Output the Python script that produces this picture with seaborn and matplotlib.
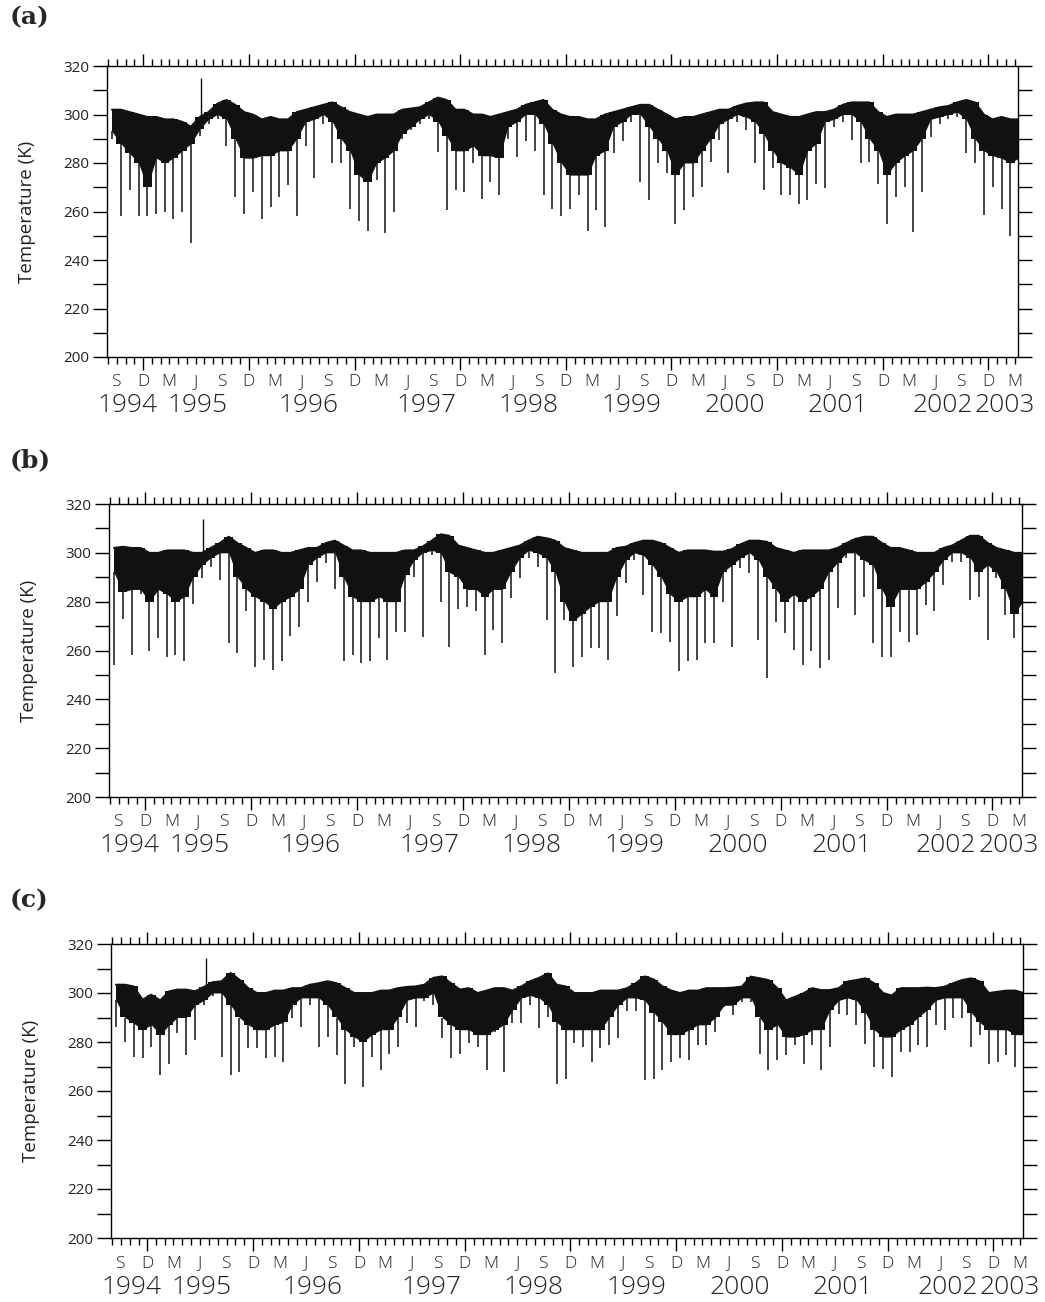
import numpy as np
import pandas as pd
import matplotlib
matplotlib.use("Agg")
import matplotlib.pyplot as plt
import matplotlib.dates as mdates
import matplotlib.transforms as mtrans
import seaborn as sns

# ---------------- data (monthly values, Aug 1994 .. Mar 2003) -------------
month_dates = pd.date_range("1994-08-01", "2003-03-01", freq="MS") + pd.Timedelta(days=14)

# panel (a)
a_top = [302, 302, 301, 300, 299,
         299, 298, 298, 297, 295, 299, 301, 304.5, 306, 304, 301, 300,
         298, 299, 298, 298, 301, 302, 303, 304, 305, 303, 301, 300,
         299, 300, 300, 300, 302, 302.5, 303, 305, 307, 306, 302, 302,
         300, 300, 299, 300, 301, 302, 304, 305, 306, 302, 300, 299,
         299, 298, 298, 300, 301, 302, 303, 304, 304, 302, 300, 298,
         299, 299, 300, 301, 302, 302, 303.5, 304.5, 305, 305, 301, 300,
         299, 299, 300, 301, 301, 302, 304, 305, 305, 305, 301, 299,
         300, 300, 300, 301, 302, 303, 303.5, 305, 306, 305, 300, 298,
         299, 298, 298]
a_band = [293, 288, 284, 280, 270,
          282, 280, 282, 285, 288, 294, 298, 300, 298, 290, 282, 282,
          283, 283, 285, 285, 290, 297, 298, 300, 297, 290, 285, 275,
          272, 280, 282, 285, 292, 295, 298, 300, 297, 291, 285, 285,
          287, 283, 283, 282, 295, 297, 300, 300, 296, 288, 280, 275,
          275, 275, 283, 285, 295, 297, 300, 300, 295, 290, 285, 275,
          280, 280, 285, 290, 296, 298, 300, 299, 297, 292, 285, 280,
          278, 275, 285, 288, 297, 298, 300, 300, 297, 290, 285, 275,
          280, 283, 285, 290, 298, 299, 300, 301, 298, 290, 285, 283,
          282, 280, 282]
a_min = [290, 258, 269, 258, 258,
         259, 260, 257, 260, 247, 291, 296, 298, 287, 266, 259, 268,
         257, 262, 266, 271, 258, 287, 274, 296, 280, 280, 261, 256,
         252, 273, 251, 260, 290, 293.5, 296, 298, 284.6, 260.5, 269, 268,
         280, 265, 272, 267, 290, 282.5, 289, 285, 267, 261, 258, 261,
         267, 252, 260.5, 253.6, 284, 289, 297, 272, 264.6, 280, 276, 255,
         260.5, 266, 270, 280.5, 289.4, 276, 297, 293.5, 280, 269, 278, 267,
         267, 263, 264.6, 271.5, 269.5, 295, 297, 289.4, 280, 280.5, 271.5, 255,
         266, 270, 251.6, 268, 290.8, 296, 298, 299, 284, 280, 258.5, 270,
         261, 250, 270]

# panel (b)
b_top = [302, 302.5, 302, 302, 300,
         300, 301, 301, 301, 300, 300, 302, 304, 306.6, 304, 302, 300,
         301, 301, 300, 300, 301, 302, 302, 304, 305, 303, 301, 301,
         300, 300, 300, 300, 301, 301, 302.6, 305, 307.6, 307, 303, 302,
         301, 300, 300, 301, 302, 303, 305, 306.6, 306, 305, 302, 301,
         300, 300, 300, 300, 302, 302.5, 304, 305, 305, 304, 302, 300,
         301, 301, 301, 300.5, 300.5, 301.5, 303.5, 305, 305, 304.5, 302, 301,
         300, 301, 301, 301, 301, 302, 304, 305.7, 306.6, 306.6, 304, 302,
         302, 301, 300, 300, 300, 302, 303, 305, 307, 307, 304, 302,
         301, 300, 300]
b_band = [292, 284, 285, 285, 280,
          285, 283, 280, 282, 290, 295, 298, 300, 300, 290, 285, 282,
          280, 277, 280, 282, 285, 295, 298, 300, 300, 290, 282, 280,
          280, 282, 280, 280, 291, 297, 300, 301, 300, 292, 290, 285,
          285, 282, 285, 285, 292, 298, 301, 300, 298, 292, 280, 272,
          275, 278, 280, 280, 290, 297, 300, 299, 295, 290, 283, 280,
          282, 282, 285, 282, 292, 295, 298, 300, 297, 290, 285, 280,
          283, 280, 282, 285, 292, 296, 300, 300, 297, 295, 285, 278,
          285, 285, 285, 288, 292, 297, 300, 300, 298, 292, 295, 292,
          285, 275, 280]
b_min = [254, 273, 258, 283, 260,
         265, 257.5, 258, 255.5, 279, 289.6, 294, 289, 263, 259, 276, 253.4,
         256, 252, 255.5, 266, 269.8, 280, 288, 296, 285, 255.5, 258, 255,
         255.5, 265, 256, 267.7, 267.7, 290, 265.7, 299, 280, 261.6, 277, 278,
         276, 258, 268.5, 263, 281.4, 289.6, 298, 294, 272.5, 250.7, 272.5, 253.4,
         257.5, 261, 261, 256, 274, 287.5, 297, 282.8, 267.7, 267, 263.6, 251.4,
         255.5, 256, 263, 263, 280, 261.6, 293.7, 291.6, 264.3, 248.6, 271.8, 267,
         260.2, 254, 259.6, 252.7, 256, 277.3, 298, 274.6, 282, 263, 257.5, 257.5,
         267.7, 263.6, 266.4, 278.7, 276, 286.8, 296.4, 296.4, 280.7, 282, 264.3, 289.6,
         274.6, 265, 267.7]

# panel (c)
c_top = [303.4, 303.4, 302.7, 297.3, 299.3,
         297, 300.7, 301.4, 301.4, 300.7, 302.5, 304.4, 304.8, 308.2, 305.5, 302, 300,
         300, 301, 301, 302, 302, 303.4, 304, 304.8, 304, 302, 300, 300,
         300, 301, 301, 302, 302.5, 302.7, 303.4, 306.2, 306.8, 304, 301.4, 302,
         300, 301, 302, 302, 301, 302.7, 304.8, 306.2, 308, 303.4, 302.7, 300,
         300, 300, 301, 301, 301, 302, 304, 306.8, 305.5, 302.7, 301, 300,
         301, 301, 302, 302, 302, 302.2, 302.6, 306.7, 306, 305.3, 302, 297,
         298.5, 300, 302, 301.2, 301.2, 302, 304.7, 305.3, 306, 304, 300, 299,
         302, 302, 302, 302.2, 302, 302.6, 304, 305.3, 306, 304.7, 300, 300.5,
         301, 301, 300]
c_band = [297, 290, 287.7, 285, 287,
          283, 287, 290, 290, 295, 297, 300, 300, 295, 290, 287, 285,
          285, 287, 288, 295, 298, 298, 298, 295, 290, 285, 282, 280,
          283, 285, 285, 290, 297, 298, 298, 300, 290, 287, 285, 285,
          283, 283, 285, 287, 293, 298, 299, 298, 295, 288, 285, 285,
          285, 285, 285, 290, 295, 298, 298, 297, 292, 288, 283, 283,
          285, 287, 287, 290, 295, 295, 298, 298, 290, 285, 287, 282,
          282, 283, 285, 285, 293, 297, 298, 297, 292, 285, 282, 282,
          285, 287, 290, 293, 297, 298, 298, 298, 292, 288, 285, 285,
          285, 283, 283]
c_min = [286, 280, 274, 273.3, 278,
         266.4, 271, 283.6, 274.7, 280.8, 295, 298.6, 274, 266.4, 267.8, 277.4, 277.4,
         273.3, 274, 272, 290, 286.3, 295, 278, 282, 274.7, 263, 278, 261.6,
         274, 268.5, 275.3, 278, 287.7, 286.3, 296.6, 295.2, 281.5, 273.3, 275.3, 279.5,
         278, 268.5, 284.2, 267.8, 287.7, 287.7, 295.2, 285.6, 290.4, 263, 265, 279.5,
         278, 272, 277.4, 278.8, 281.5, 292.5, 292.5, 264.4, 265, 268.5, 272, 273.3,
         272.6, 278.8, 278.6, 284, 294.4, 291, 296.4, 296.4, 275.2, 268.4, 272.5, 274.5,
         278.6, 271, 278.6, 268.4, 278, 291.6, 291, 286.8, 279.3, 269.7, 269, 265.6,
         275.9, 275.9, 278.6, 278, 286.8, 284.8, 289.6, 289.6, 278, 282.7, 271, 271.8,
         274.5, 269.7, 269.7]

# single upward spikes (date, value)
up_dates = ["1995-06-18", "1995-06-18", "1995-06-21"]
up_values = [315, 314, 314.4]

panel_names = ["(a)", "(b)", "(c)"]
year_labels = ["1994", "1995", "1996", "1997", "1998", "1999", "2000", "2001", "2002", "2003"]
month_letter = {9: "S", 12: "D", 3: "M", 6: "J"}
y_ticks = [200, 220, 240, 260, 280, 300, 320]
y_label = "Temperature (K)"

# ---------------- styling / layout ----------------
sns.set_theme(style="white")
plt.rcParams["font.family"] = ["Open Sans", "DejaVu Sans"]

W, H = 1045, 1302
fig = plt.figure(figsize=(W / 100, H / 100), dpi=100)

# axes boxes in pixels: left, top, right, bottom
boxes = [(107, 66, 1018, 357), (109, 504, 1022, 797), (111, 944, 1023, 1238)]
label_pos = [(10, 17), (10, 460), (10, 900)]
# year label centres as axes fraction
year_frac = [0.022, 0.099, 0.221, 0.351, 0.463, 0.576, 0.689, 0.802, 0.917, 0.986]

x0 = pd.Timestamp("1994-07-29")
x1 = pd.Timestamp("2003-03-13")

series = [(a_top, a_band, a_min), (b_top, b_band, b_min), (c_top, c_band, c_min)]
ink = "#111111"

for i, ((top, band, mins), (l, t, r, b)) in enumerate(zip(series, boxes)):
    ax = fig.add_axes([l / W, 1 - b / H, (r - l) / W, (b - t) / H])
    df = pd.DataFrame({"date": month_dates, "top": top, "band": band, "min": mins})
    # monthly range drawn twice (straight and stepped) to give a ragged band
    ax.fill_between(df["date"], df["band"], df["top"], color=ink, lw=0)
    ax.fill_between(df["date"], df["band"], df["top"], color=ink, lw=0, step="mid")
    sns.lineplot(data=df, x="date", y="top", ax=ax, color=ink, lw=1.4)
    ax.vlines(df["date"], df["min"], df["band"], color=ink, lw=1.1)
    ax.vlines(pd.Timestamp(up_dates[i]), top[10], up_values[i], color=ink, lw=1.0)

    ax.set_xlim(x0, x1)
    ax.set_ylim(200, 320)
    ax.set_yticks(y_ticks)
    ax.set_yticks(np.arange(210, 320, 20), minor=True)
    ax.set_yticklabels([str(v) for v in y_ticks], fontsize=11, color="#222222")
    ax.xaxis.set_major_locator(mdates.MonthLocator(bymonth=12))
    ax.xaxis.set_minor_locator(mdates.MonthLocator())
    ax.tick_params(axis="x", which="major", direction="out", length=9, width=1,
                   top=True, bottom=True, labelbottom=False, color="black")
    ax.tick_params(axis="x", which="minor", direction="out", length=5, width=1,
                   top=True, bottom=True, color="black")
    ax.tick_params(axis="y", which="both", direction="out", length=10, width=1,
                   left=True, right=True, labelleft=True, labelright=False, color="black", pad=3)
    ax.set_xlabel("")
    ax.set_ylabel(y_label, fontsize=13.5, color="#222222")
    ax.yaxis.set_label_coords(-0.078, 0.5)
    for sp in ax.spines.values():
        sp.set_color("black")
        sp.set_linewidth(1.0)
    ax.grid(False)

    # month letters
    trans = mtrans.blended_transform_factory(ax.transData, ax.transAxes)
    for d in pd.date_range("1994-09-01", "2003-03-01", freq="3MS"):
        ax.text(d, -0.087, month_letter[d.month], transform=trans, ha="center", va="center",
                fontsize=12.5, color="#222222", fontweight="light")
    for yl, fx in zip(year_labels, year_frac):
        ax.text(fx, -0.167, yl, transform=ax.transAxes, ha="center", va="center",
                fontsize=19, color="#222222", fontweight="light")

    fig.text(label_pos[i][0] / W, 1 - label_pos[i][1] / H, panel_names[i],
             family=["DejaVu Serif"], fontweight="bold", fontsize=18, ha="left", va="center")

fig.savefig("out.png", dpi=100, facecolor="white")
